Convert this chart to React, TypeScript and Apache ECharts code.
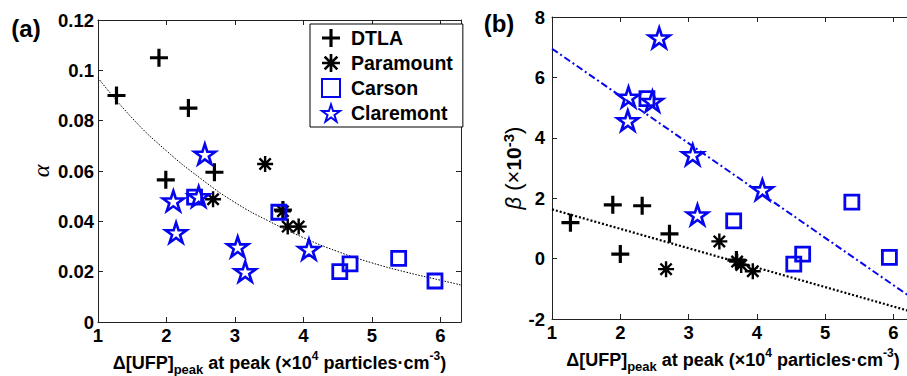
import React, { useEffect, useRef } from "react";
import * as echarts from "echarts";

// ---- data ----
const dtlaXa = [1.27, 1.89, 2.32, 1.99, 2.7, 3.7];
const dtlaAlpha = [0.09, 0.105, 0.085, 0.0565, 0.0595, 0.0445];
const paraXa = [2.68, 3.44, 3.7, 3.77, 3.93];
const paraAlpha = [0.0488, 0.0628, 0.044, 0.0379, 0.0379];
const carsXa = [2.41, 3.64, 4.53, 4.68, 5.39, 5.92];
const carsAlpha = [0.0496, 0.0436, 0.02, 0.0231, 0.0253, 0.0163];
const clarXa = [2.56, 2.1, 2.47, 2.14, 3.04, 3.15, 4.08];
const clarAlpha = [0.0667, 0.0481, 0.0498, 0.0355, 0.0299, 0.02, 0.0289];

const dtlaXb = [1.27, 1.89, 2.32, 2.0, 2.72, 3.7];
const dtlaBeta = [1.19, 1.78, 1.75, 0.15, 0.82, -0.05];
const paraXb = [2.67, 3.45, 3.71, 3.77, 3.94];
const paraBeta = [-0.35, 0.57, -0.1, -0.21, -0.42];
const carsXb = [2.39, 3.66, 4.54, 4.67, 5.39, 5.94];
const carsBeta = [5.3, 1.25, -0.18, 0.15, 1.87, 0.04];
const clarXb = [2.57, 2.12, 2.47, 2.11, 3.06, 3.13, 4.08];
const clarBeta = [7.31, 5.35, 5.21, 4.57, 3.44, 1.45, 2.28];

// fitted curve (a)
const fitAX = [1, 1.5, 2, 2.5, 3, 3.5, 4, 4.5, 5, 5.5, 6, 6.3];
const fitAY = [0.097, 0.081, 0.068, 0.057, 0.0475, 0.04, 0.0335, 0.028, 0.0235, 0.0198, 0.0166, 0.0147];
// fitted lines (b)
const fitBlueX = [1, 6.3];
const fitBlueY = [6.95, -1.35];
const fitBlackX = [1, 6.3];
const fitBlackY = [1.63, -1.78];

const stations = ["DTLA", "Paramount", "Carson", "Claremont"];
const xTicksLabel = [1, 2, 3, 4, 5, 6];

const FONT = "Liberation Sans";
const BLUE = "#0606ee";
const PLUS = "path://M7,0H10V7H17V10H10V17H7V10H0V7H7Z";
const AST =
  "path://M6.8,0H9.2V16H6.8Z M0,6.8H16V9.2H0Z M1.5,3.2L3.2,1.5L14.5,12.8L12.8,14.5Z M12.8,1.5L14.5,3.2L3.2,14.5L1.5,12.8Z";
const STAR =
  "path://M50,0L61.23,34.55L97.55,34.55L68.17,55.9L79.39,90.45L50,69.1L20.61,90.45L31.83,55.9L2.45,34.55L38.77,34.55Z";

const pairs = (xs: number[], ys: number[]) => xs.map((x, i) => [x, ys[i]]);

const axisLine = { show: true, onZero: false, lineStyle: { color: "#222", width: 1 } };
const axisTick = { show: true, inside: true, length: 5, lineStyle: { color: "#222", width: 1 } };
const tickLabel = { fontFamily: FONT, fontWeight: "bold" as const, fontSize: 18.5, color: "#000" };

const xName =
  "{m|Δ[UFP]}{s|peak}{m| at peak (×10}{p|4}{m| particles·cm}{p|-3}{m|)}";
const xNameStyle = {
  fontFamily: FONT,
  fontWeight: "bold" as const,
  fontSize: 18,
  color: "#000",
  rich: {
    m: { fontFamily: FONT, fontWeight: "bold" as const, fontSize: 18, lineHeight: 26, verticalAlign: "middle" as const, color: "#000" },
    s: { fontFamily: FONT, fontWeight: "bold" as const, fontSize: 13, lineHeight: 13, verticalAlign: "bottom" as const, color: "#000" },
    p: { fontFamily: FONT, fontWeight: "bold" as const, fontSize: 12, lineHeight: 12, verticalAlign: "top" as const, color: "#000" },
  },
};

function xAxes(gridIndex: number) {
  return [
    {
      type: "value",
      gridIndex,
      min: 1,
      max: 6.3,
      interval: 1,
      position: "bottom",
      axisLine,
      axisTick,
      splitLine: { show: false },
      axisLabel: {
        ...tickLabel,
        margin: 4,
        showMaxLabel: false,
        formatter: (v: number) => (xTicksLabel.includes(v) ? String(v) : ""),
      },
      name: xName,
      nameLocation: "middle",
      nameGap: 25,
      nameTextStyle: xNameStyle,
    },
    {
      type: "value",
      gridIndex,
      min: 1,
      max: 6.3,
      interval: 1,
      position: "top",
      axisLine,
      axisTick,
      splitLine: { show: false },
      axisLabel: { show: false },
    },
  ];
}

function scatter(name: string, xi: number, yi: number, data: number[][]) {
  const base: any = {
    name,
    type: "scatter",
    xAxisIndex: xi,
    yAxisIndex: yi,
    data,
    z: 3,
  };
  if (name === "DTLA") {
    base.symbol = PLUS;
    base.symbolSize = 18;
    base.itemStyle = { color: "#000", opacity: 1 };
  } else if (name === "Paramount") {
    base.symbol = AST;
    base.symbolSize = 16;
    base.itemStyle = { color: "#000", opacity: 1 };
  } else if (name === "Carson") {
    base.symbol = "rect";
    base.symbolSize = 14;
    base.itemStyle = { color: "rgba(255,255,255,0)", borderColor: BLUE, borderWidth: 2.8, opacity: 1 };
  } else {
    base.symbol = STAR;
    base.symbolSize = [21, 20];
    base.itemStyle = { color: "rgba(255,255,255,0)", borderColor: BLUE, borderWidth: 2.6, opacity: 1 };
  }
  return base;
}

export default function App() {
  const ref = useRef<HTMLDivElement>(null);
  useEffect(() => {
    if (!ref.current) return;
    const chart = echarts.init(ref.current, undefined, { renderer: "svg" });
    const option: any = {
      animation: false,
      backgroundColor: "#fff",
      grid: [
        { left: 98, top: 20, width: 363, height: 302, containLabel: false, outerBoundsMode: "none" },
        { left: 552, top: 17, width: 362, height: 302, containLabel: false, outerBoundsMode: "none" },
      ],
      xAxis: [...xAxes(0), ...xAxes(1)],
      yAxis: [
        {
          type: "value",
          gridIndex: 0,
          min: 0,
          max: 0.12,
          interval: 0.02,
          position: "left",
          axisLine,
          axisTick,
          splitLine: { show: false },
          axisLabel: {
            ...tickLabel,
            margin: 4,
            formatter: (v: number) => String(+v.toFixed(2)),
          },
          name: "α",
          nameLocation: "middle",
          nameRotate: 90,
          nameGap: 45,
          nameTextStyle: { fontFamily: "Liberation Serif", fontStyle: "italic", fontSize: 24, color: "#000" },
        },
        {
          type: "value",
          gridIndex: 0,
          min: 0,
          max: 0.12,
          interval: 0.02,
          position: "right",
          axisLine,
          axisTick,
          splitLine: { show: false },
          axisLabel: { show: false },
        },
        {
          type: "value",
          gridIndex: 1,
          min: -2,
          max: 8,
          interval: 2,
          position: "left",
          axisLine,
          axisTick,
          splitLine: { show: false },
          axisLabel: { ...tickLabel, margin: 7 },
          name: "{b|β}{t| (×}{n|10}{p|-3}{t|)}",
          nameLocation: "middle",
          nameRotate: 90,
          nameGap: 25,
          nameTextStyle: {
            fontFamily: FONT,
            fontSize: 21,
            color: "#000",
            rich: {
              b: { fontFamily: FONT, fontStyle: "italic", fontSize: 22, lineHeight: 26, verticalAlign: "middle", color: "#000" },
              t: { fontFamily: FONT, fontSize: 22, lineHeight: 26, verticalAlign: "middle", color: "#000" },
              n: { fontFamily: FONT, fontWeight: "bold", fontSize: 21, lineHeight: 26, verticalAlign: "middle", color: "#000" },
              p: { fontFamily: FONT, fontWeight: "bold", fontSize: 15, lineHeight: 15, verticalAlign: "top", color: "#000" },
            },
          },
        },
      ],
      legend: {
        orient: "vertical",
        left: 310,
        top: 24,
        padding: [4, 10, 4, 11],
        itemWidth: 18,
        itemHeight: 18,
        itemGap: 5,
        borderColor: "#000",
        borderWidth: 1,
        borderRadius: 0,
        backgroundColor: "#fff",
        textStyle: { fontFamily: FONT, fontWeight: "bold", fontSize: 19.5, lineHeight: 20, color: "#000", padding: [0, 0, 0, 6] },
        data: stations,
        z: 10,
      },
      graphic: [
        {
          type: "text",
          x: 26,
          y: 28,
          style: { text: "(a)", font: `bold 24px "${FONT}"`, fill: "#000", align: "center", verticalAlign: "middle" },
        },
        {
          type: "text",
          x: 499,
          y: 23,
          style: { text: "(b)", font: `bold 24px "${FONT}"`, fill: "#000", align: "center", verticalAlign: "middle" },
        },
      ],
      series: [
        {
          name: "fit-a",
          type: "line",
          xAxisIndex: 0,
          yAxisIndex: 0,
          data: pairs(fitAX, fitAY),
          smooth: true,
          symbol: "none",
          lineStyle: { color: "#000", width: 1, type: [1.5, 1.5] },
          z: 2,
        },
        scatter("DTLA", 0, 0, pairs(dtlaXa, dtlaAlpha)),
        scatter("Paramount", 0, 0, pairs(paraXa, paraAlpha)),
        scatter("Carson", 0, 0, pairs(carsXa, carsAlpha)),
        scatter("Claremont", 0, 0, pairs(clarXa, clarAlpha)),
        {
          name: "fit-b-blue",
          type: "line",
          xAxisIndex: 2,
          yAxisIndex: 2,
          data: pairs(fitBlueX, fitBlueY),
          symbol: "none",
          lineStyle: { color: BLUE, width: 2, type: [7, 3, 2, 3] },
          z: 2,
        },
        {
          name: "fit-b-black",
          type: "line",
          xAxisIndex: 2,
          yAxisIndex: 2,
          data: pairs(fitBlackX, fitBlackY),
          symbol: "none",
          lineStyle: { color: "#000", width: 2.2, type: [2, 2] },
          z: 2,
        },
        scatter("DTLA", 2, 2, pairs(dtlaXb, dtlaBeta)),
        scatter("Paramount", 2, 2, pairs(paraXb, paraBeta)),
        scatter("Carson", 2, 2, pairs(carsXb, carsBeta)),
        scatter("Claremont", 2, 2, pairs(clarXb, clarBeta)),
      ],
    };
    chart.setOption(option);
    return () => chart.dispose();
  }, []);
  return (
    <div
      ref={ref}
      style={{ position: "absolute", left: 0, top: 0, width: 907, height: 376, overflow: "hidden", background: "#fff" }}
    />
  );
}
